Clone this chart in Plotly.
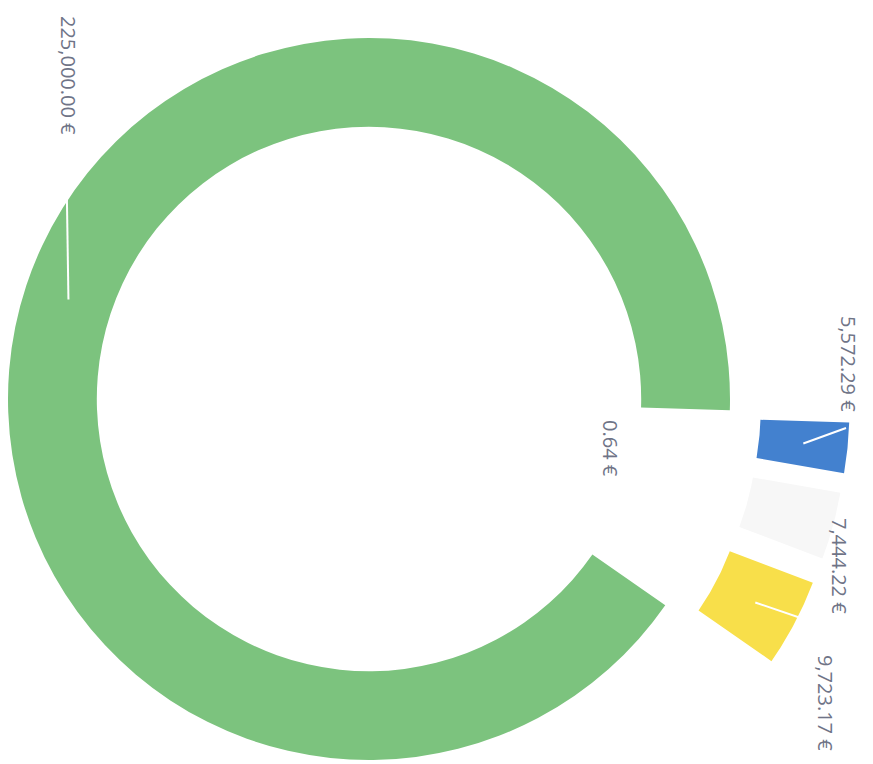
import numpy as np
import plotly.graph_objects as go

# ---- data ----
labels = ["0.64 €", "5,572.29 €", "7,444.22 €", "9,723.17 €", "225,000.00 €"]
values = [0.64, 5572.29, 7444.22, 9723.17, 225000.00]
colors = ["#9e9e9e", "#4381cf", "#f7f7f7", "#f8df4a", "#7cc37e"]
pulled = [False, True, True, True, False]

# ---- layout geometry (window pixels; page body has an 8px margin) ----
OFF = 8
W, H = 873 - OFF, 764 - OFF
CX, CY, R = 369 - OFF, 399 - OFF, 361
HOLE = 0.754
START = 1.8          # degrees clockwise from 3 o'clock
PULL_PX = 120
label_pos = [(611, 448), (849, 364), (840, 566), (826, 703), (69, 75)]
leader_end = [None, (846, 428), None, (830, 628), (66, 140)]

total = sum(values)
cum = np.concatenate([[0], np.cumsum(values)])
a0 = START + 360 * cum[:-1] / total
a1 = START + 360 * cum[1:] / total
amid = (a0 + a1) / 2
r_in = R * HOLE
r_mid = (R + r_in) / 2

fig = go.Figure()

# main ring (pulled slices transparent here, drawn separately below)
fig.add_trace(go.Pie(
    labels=labels, values=values, sort=False, direction="clockwise",
    rotation=90 + START, hole=HOLE,
    marker=dict(colors=[("rgba(0,0,0,0)" if p else c) for c, p in zip(colors, pulled)],
                line=dict(width=0)),
    textinfo="none", hoverinfo="label+value", showlegend=False,
    domain=dict(x=[max(0, (CX - R) / W), (CX + R) / W],
                y=[(H - CY - R) / H, (H - CY + R) / H]),
))

# pulled slices as polygons computed from the slice angles
for i, p in enumerate(pulled):
    if not p:
        continue
    t = np.radians(np.linspace(a0[i], a1[i], 40))
    m = np.radians(amid[i])
    dx, dy = PULL_PX * np.cos(m), PULL_PX * np.sin(m)
    xs = np.concatenate([CX + R * np.cos(t), CX + r_in * np.cos(t[::-1])]) + dx
    ys = np.concatenate([CY + R * np.sin(t), CY + r_in * np.sin(t[::-1])]) + dy
    fig.add_trace(go.Scatter(
        x=np.append(xs, xs[0]), y=np.append(ys, ys[0]), mode="lines",
        fill="toself", fillcolor=colors[i], line=dict(width=0, color=colors[i]),
        hoverinfo="text", text=labels[i], showlegend=False,
    ))

# leader lines (white) and labels
shapes = []
annotations = []
for i in range(len(values)):
    if leader_end[i] is not None:
        m = np.radians(amid[i])
        shift = PULL_PX if pulled[i] else 0
        sx = CX + (r_mid + shift) * np.cos(m)
        sy = CY + (r_mid + shift) * np.sin(m)
        ex, ey = leader_end[i][0] - OFF, leader_end[i][1] - OFF
        shapes.append(dict(type="line", xref="x", yref="y", x0=sx, y0=sy, x1=ex, y1=ey,
                           line=dict(color="white", width=2), layer="above"))
    lx, ly = label_pos[i][0] - OFF, label_pos[i][1] - OFF
    annotations.append(dict(x=lx, y=ly, xref="x", yref="y", text=labels[i],
                            showarrow=False, textangle=90, xanchor="center", yanchor="middle",
                            font=dict(family="Open Sans", size=20, color="#6f7487")))

fig.update_layout(
    width=W, height=H, margin=dict(l=0, r=0, t=0, b=0),
    paper_bgcolor="white", plot_bgcolor="rgba(0,0,0,0)",
    xaxis=dict(range=[0, W], visible=False, fixedrange=True),
    yaxis=dict(range=[H, 0], visible=False, fixedrange=True),
    shapes=shapes, annotations=annotations, showlegend=False,
)

fig.write_html("out.html")
